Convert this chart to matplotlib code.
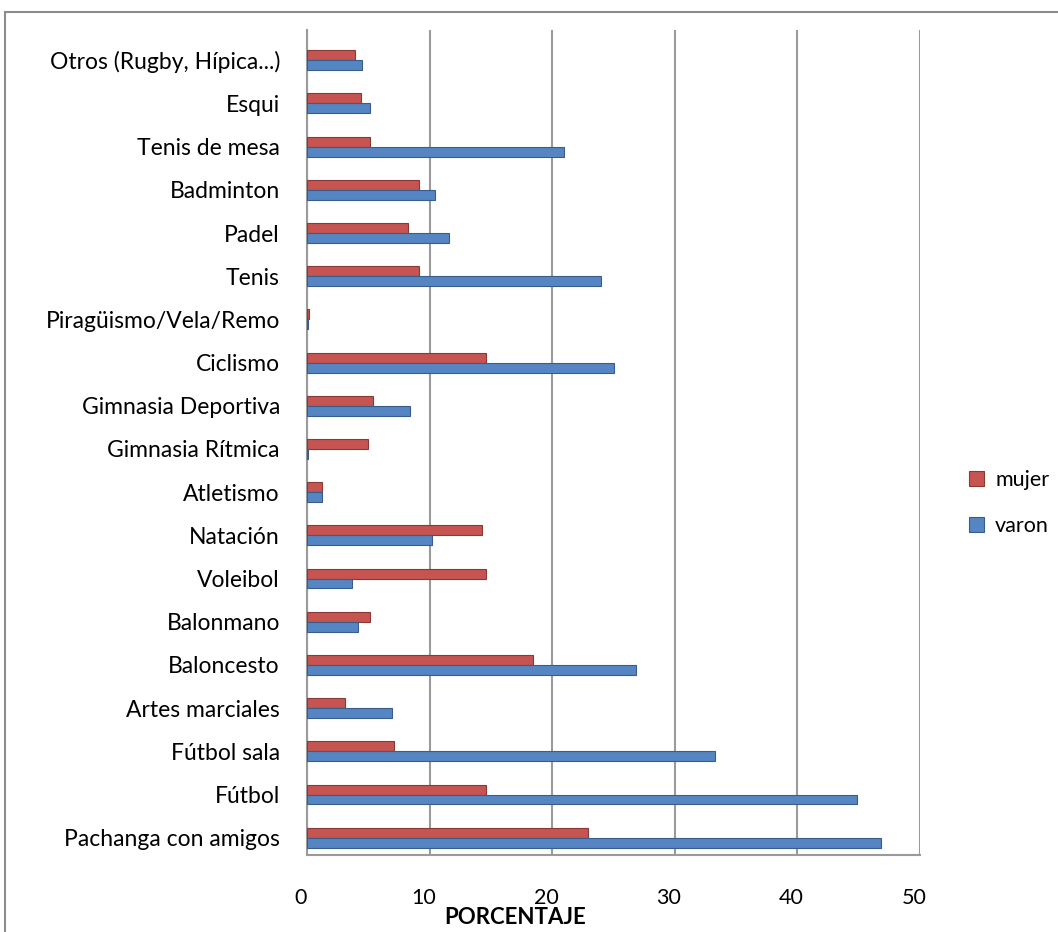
import matplotlib.pyplot as plt
import matplotlib.transforms as mtransforms
from matplotlib.patches import Rectangle
import numpy as np

# categories from bottom to top
deportes = ['Pachanga con amigos', 'Fútbol', 'Fútbol sala', 'Artes marciales',
            'Baloncesto', 'Balonmano', 'Voleibol', 'Natación', 'Atletismo',
            'Gimnasia Rítmica', 'Gimnasia Deportiva', 'Ciclismo',
            'Piragüismo/Vela/Remo', 'Tenis', 'Padel', 'Badminton',
            'Tenis de mesa', 'Esqui', 'Otros (Rugby, Hípica...)']
mujer = [22.9, 14.6, 7.1, 3.1, 18.4, 5.1, 14.6, 14.3, 1.2,
         5.0, 5.4, 14.6, 0.2, 9.1, 8.2, 9.1, 5.1, 4.4, 3.9]
varon = [46.8, 44.9, 33.3, 6.9, 26.8, 4.2, 3.7, 10.2, 1.2,
         0.1, 8.4, 25.0, 0.1, 24.0, 11.6, 10.4, 21.0, 5.1, 4.5]
xticks = [0, 10, 20, 30, 40, 50]

plt.rcParams['font.family'] = ['Lato', 'DejaVu Sans']

W, H = 1058, 932
fig = plt.figure(figsize=(W / 100, H / 100), dpi=100)
ax = fig.add_axes([307 / W, 1 - 855 / H, (920 - 307) / W, (855 - 30) / H])

# marco exterior del gráfico (recortado a la derecha y abajo)
fig.patches.append(Rectangle((5 / W, -0.1), 1.2, 1 - 12 / H + 0.1,
                             transform=fig.transFigure, fill=False,
                             edgecolor='#8c8c8c', lw=1.5, clip_on=False))

y = np.arange(len(deportes))
h = 0.23
ax.barh(y + h / 2, mujer, height=h, color='#C65451', edgecolor='#8C3836',
        lw=0.8, label='mujer', zorder=3)
ax.barh(y - h / 2, varon, height=h, color='#5586C3', edgecolor='#385D8A',
        lw=0.8, label='varon', zorder=3)

ax.set_xlim(0, 50)
ax.set_ylim(-0.4, 18.7)
ax.set_xticks(xticks)
ax.grid(axis='x', color='#9a9a9a', lw=1.5, zorder=0)
ax.set_yticks(y)
ax.set_yticklabels(deportes, fontsize=16.5)
ax.tick_params(axis='y', length=0, pad=19.5)
ax.tick_params(axis='x', length=0, pad=24, labelsize=15.5, colors='#000000')
off = mtransforms.ScaledTranslation(-6 / 100, 0, fig.dpi_scale_trans)
for lbl in ax.get_xticklabels():
    lbl.set_transform(lbl.get_transform() + off)

for s in ['top', 'right']:
    ax.spines[s].set_visible(False)
for s in ['left', 'bottom']:
    ax.spines[s].set_color('#9a9a9a')
    ax.spines[s].set_linewidth(1.5)

fig.text(515 / W, 1 - 918 / H, 'PORCENTAJE', fontsize=16, fontweight='bold',
         ha='center', va='center')

ax.legend(loc='center left', bbox_to_anchor=(950 / W, 1 - 503 / H),
          bbox_transform=fig.transFigure, frameon=False, fontsize=15.5,
          handlelength=0.7, handleheight=0.7, labelspacing=1.2,
          handletextpad=0.5)

fig.savefig('out.png', dpi=100)
